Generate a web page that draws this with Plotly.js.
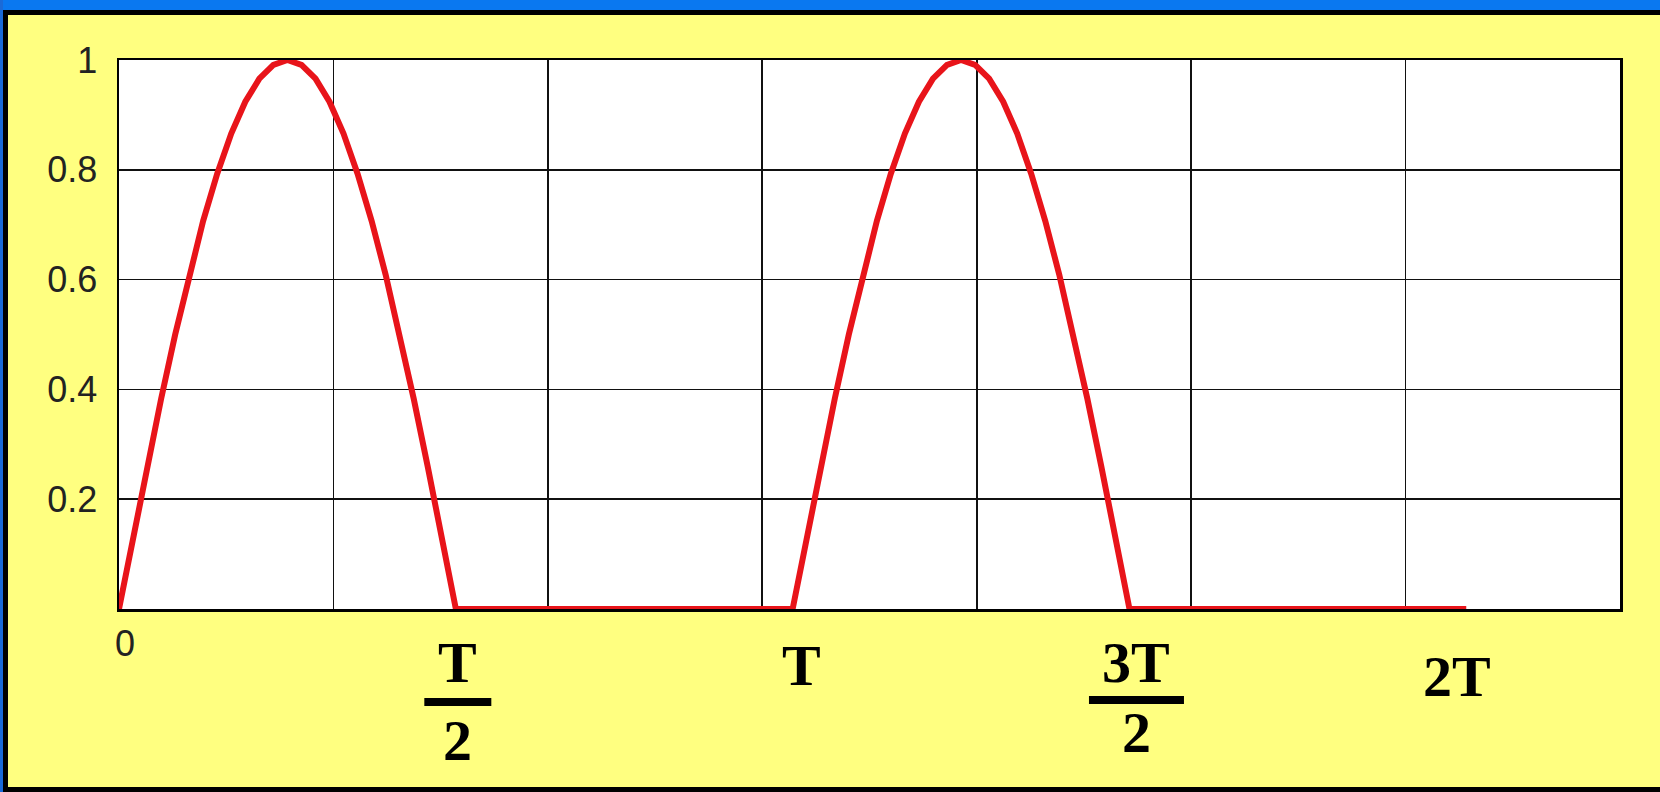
<!DOCTYPE html>
<html><head><meta charset="utf-8">
<script src="https://cdn.plot.ly/plotly-3.0.1.min.js"></script>
<style>
html,body{margin:0;padding:0;background:#ffff80;overflow:hidden}
#chart{position:absolute;left:0;top:0;width:1660px;height:792px}
.f{position:absolute;pointer-events:none}
</style></head><body>
<div id="chart"></div>
<div class="f" style="left:0;top:0;width:1660px;height:10px;background:#0a78f0"></div>
<div class="f" style="left:0;top:0;width:3px;height:792px;background:#1a6ad8"></div>
<div class="f" style="left:3px;top:10px;width:1657px;height:5px;background:#000"></div>
<div class="f" style="left:3px;top:10px;width:5px;height:782px;background:#000"></div>
<div class="f" style="left:3px;top:787px;width:1657px;height:5px;background:#000"></div>
<script>
// phase angle (rad) and normalised output of the half-wave rectified signal
const t = [
  0, 0.131, 0.262, 0.393, 0.524, 0.654, 0.785, 0.916, 1.047, 1.178, 1.309, 1.440, 1.571,
  1.702, 1.833, 1.963, 2.094, 2.225, 2.356, 2.487, 2.618, 2.749, 2.880, 3.011, 3.142,
  6.283, 6.414, 6.545, 6.676, 6.807, 6.938, 7.069, 7.199, 7.330, 7.461, 7.592, 7.723, 7.854,
  7.985, 8.116, 8.247, 8.378, 8.508, 8.639, 8.770, 8.901, 9.032, 9.163, 9.294, 9.425,
  12.566
];
const v = [
  0, 0.131, 0.259, 0.383, 0.500, 0.609, 0.707, 0.793, 0.866, 0.924, 0.966, 0.991, 1.000,
  0.991, 0.966, 0.924, 0.866, 0.793, 0.707, 0.609, 0.500, 0.383, 0.259, 0.131, 0,
  0, 0.131, 0.259, 0.383, 0.500, 0.609, 0.707, 0.793, 0.866, 0.924, 0.966, 0.991, 1.000,
  0.991, 0.966, 0.924, 0.866, 0.793, 0.707, 0.609, 0.500, 0.383, 0.259, 0.131, 0,
  0
];

const xGrid = [0, 2, 4, 6, 8, 10, 12, 14];
const yTicks = [0.2, 0.4, 0.6, 0.8, 1];
const yTickText = ['0.2', '0.4', '0.6', '0.8', '1'];

// x labels: position, numerator, denominator
const xLabelPos = [0, 3.1416, 6.2832, 9.4248, 12.5664];
const xLabelNum = ['0', 'T', 'T', '3T', '2T'];
const xLabelDen = [null, '2', null, '2', null];

// per-label placement (pixels)
const placement = [
  {dx: 6,  numY: -34, barY: 0,   denY: 0,    barW: 0,  serif: false},
  {dx: 2,  numY: -53, barY: -93, denY: -131, barW: 67, serif: true},
  {dx: 9,  numY: -56, barY: 0,   denY: 0,    barW: 0,  serif: true},
  {dx: 7,  numY: -53, barY: -91, denY: -123, barW: 95, serif: true},
  {dx: -9, numY: -67, barY: 0,   denY: 0,    barW: 0,  serif: true}
];

const serifFont = {family: 'Liberation Serif, Times New Roman, serif', size: 58, color: '#000', weight: 'bold'};
const sansFont = {family: 'Liberation Sans, Arial, sans-serif', size: 36, color: '#222'};

const annotations = [];
const shapes = [];
xLabelPos.forEach((xp, i) => {
  const p = placement[i];
  annotations.push({
    x: xp, xref: 'x', y: 0, yref: 'paper', xanchor: 'center', yanchor: 'middle',
    xshift: p.dx, yshift: p.numY, showarrow: false,
    text: p.serif ? '<b>' + xLabelNum[i] + '</b>' : xLabelNum[i],
    font: p.serif ? serifFont : sansFont
  });
  if (xLabelDen[i]) {
    annotations.push({
      x: xp, xref: 'x', y: 0, yref: 'paper', xanchor: 'center', yanchor: 'middle',
      xshift: p.dx, yshift: p.denY, showarrow: false,
      text: '<b>' + xLabelDen[i] + '</b>', font: serifFont
    });
    shapes.push({
      type: 'line', xref: 'x', yref: 'paper',
      xsizemode: 'pixel', xanchor: xp, x0: p.dx - p.barW / 2, x1: p.dx + p.barW / 2,
      ysizemode: 'pixel', yanchor: 0, y0: p.barY, y1: p.barY,
      line: {color: '#000', width: 8}
    });
  }
});

const trace = {
  x: t, y: v, type: 'scatter', mode: 'lines',
  line: {color: '#e8141a', width: 6, shape: 'linear'},
  hoverinfo: 'skip', showlegend: false
};

const layout = {
  width: 1660, height: 792,
  margin: {l: 119, r: 40, t: 60, b: 183, pad: 0},
  paper_bgcolor: '#ffff80', plot_bgcolor: '#ffffff',
  showlegend: false,
  xaxis: {
    range: [0, 14], tickvals: xGrid, showticklabels: false, ticks: '',
    showgrid: true, gridcolor: '#111', gridwidth: 1.6, zeroline: false,
    showline: true, linecolor: '#000', linewidth: 2.5, mirror: true, fixedrange: true
  },
  yaxis: {
    range: [0, 1], tickvals: yTicks, ticktext: yTickText, ticks: '',
    tickfont: sansFont, ticklabelstandoff: 12,
    showgrid: true, gridcolor: '#111', gridwidth: 1.6, zeroline: false,
    showline: true, linecolor: '#000', linewidth: 2.5, mirror: true, fixedrange: true
  },
  annotations: annotations,
  shapes: shapes
};

Plotly.newPlot('chart', [trace], layout, {staticPlot: true, displayModeBar: false});
</script>
</body></html>
